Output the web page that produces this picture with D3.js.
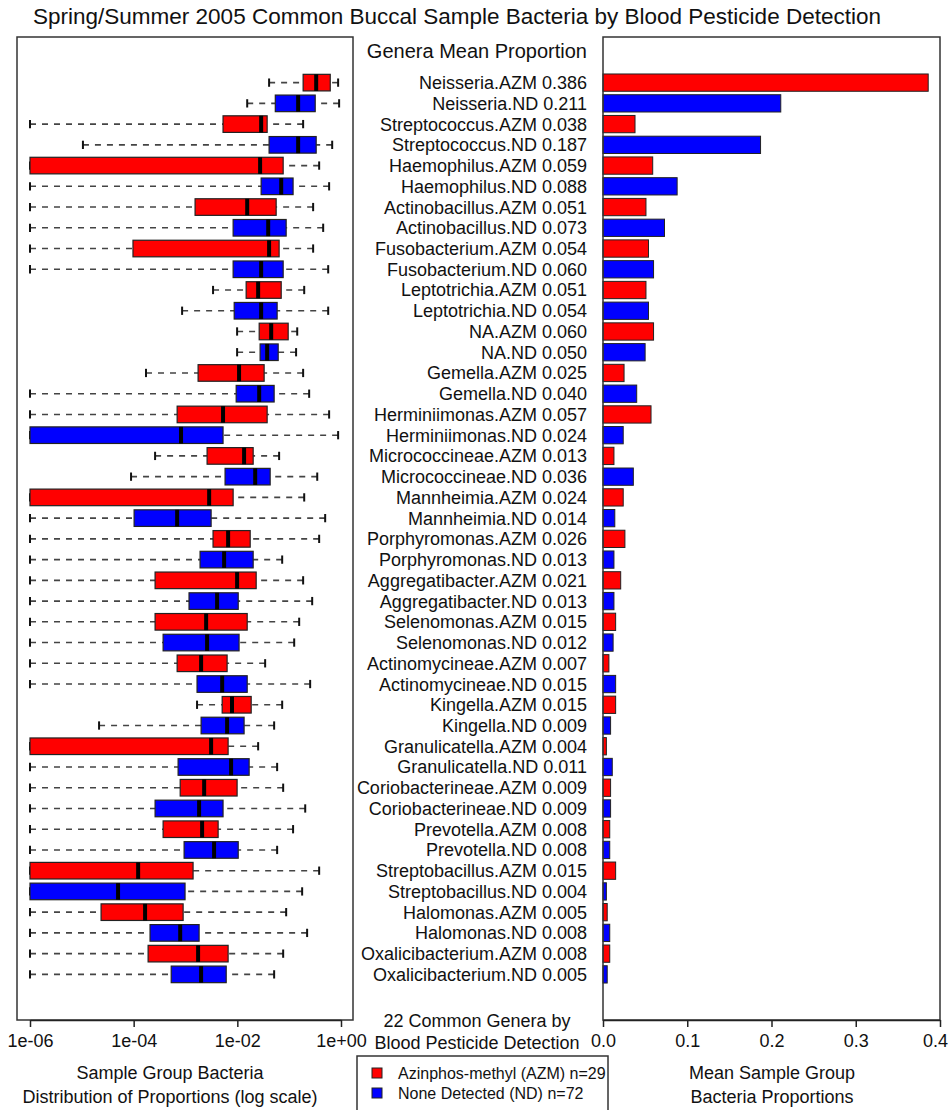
<!DOCTYPE html>
<html>
<head>
<meta charset="utf-8">
<script src="https://cdn.jsdelivr.net/npm/d3@7"></script>
<style>
  html, body { margin: 0; padding: 0; background: #fff; }
  svg { display: block; font-family: "Liberation Sans", Arial, Helvetica, sans-serif; }
</style>
</head>
<body>
<svg id="chart" width="950" height="1110"></svg>
<script>
// ---- data -------------------------------------------------------------
const genera = [
  "Neisseria", "Streptococcus", "Haemophilus", "Actinobacillus", "Fusobacterium",
  "Leptotrichia", "NA", "Gemella", "Herminiimonas", "Micrococcineae", "Mannheimia",
  "Porphyromonas", "Aggregatibacter", "Selenomonas", "Actinomycineae", "Kingella",
  "Granulicatella", "Coriobacterineae", "Prevotella", "Streptobacillus", "Halomonas",
  "Oxalicibacterium"
];
const groups = ["AZM", "ND"];
const groupColors = ["#ff0000", "#0000ff"];

// mean proportion per genus/group (AZM, ND alternating)
const meanProportion = [
  0.386, 0.211, 0.038, 0.187, 0.059, 0.088, 0.051, 0.073, 0.054, 0.060,
  0.051, 0.054, 0.060, 0.050, 0.025, 0.040, 0.057, 0.024, 0.013, 0.036,
  0.024, 0.014, 0.026, 0.013, 0.021, 0.013, 0.015, 0.012, 0.007, 0.015,
  0.015, 0.009, 0.004, 0.011, 0.009, 0.009, 0.008, 0.008, 0.015, 0.004,
  0.005, 0.008, 0.008, 0.005
];

// five-number summaries of per-sample proportions (zeros floored at 1e-06)
const whiskerLow = [
  0.041, 0.0155, 1e-6, 1.05e-5, 1e-6, 1e-6, 1e-6, 1e-6, 1e-6, 1e-6,
  0.0034, 0.00086, 0.0099, 0.0099, 0.000173, 1e-6, 1e-6, 1e-6, 0.000259, 8.9e-5,
  1e-6, 1e-6, 1e-6, 1e-6, 1e-6, 1e-6, 1e-6, 1e-6, 1e-6, 1e-6,
  0.00167, 2.15e-5, 1e-6, 1e-6, 1e-6, 1e-6, 1e-6, 1e-6, 1e-6, 1e-6,
  1e-6, 1e-6, 1e-6, 1e-6
];
const quartile1 = [
  0.186, 0.054, 0.0053, 0.041, 1e-6, 0.0288, 0.00153, 0.0083, 9.7e-5, 0.0083,
  0.0148, 0.0087, 0.0264, 0.0275, 0.00175, 0.0095, 0.00069, 1e-6, 0.00261, 0.0058,
  1e-6, 0.000102, 0.0034, 0.00191, 0.000259, 0.00117, 0.000259, 0.00037, 0.00069, 0.00167,
  0.0051, 0.002, 1e-6, 0.00072, 0.00079, 0.000259, 0.00037, 0.00094, 1e-6, 1e-6,
  2.35e-5, 0.000207, 0.00019, 0.00053
];
const median = [
  0.332, 0.149, 0.0288, 0.149, 0.0275, 0.0702, 0.0155, 0.0394, 0.041, 0.0288,
  0.0252, 0.0288, 0.045, 0.0376, 0.0108, 0.0264, 0.0053, 0.00082, 0.0135, 0.0221,
  0.00286, 0.00069, 0.00664, 0.00556, 0.0099, 0.00407, 0.0025, 0.00261, 0.002, 0.0051,
  0.0079, 0.00635, 0.00312, 0.00758, 0.00229, 0.00183, 0.00209, 0.00356, 0.000122, 5.0e-5,
  0.000166, 0.00079, 0.00175, 0.002
];
const quartile3 = [
  0.62, 0.318, 0.0376, 0.332, 0.0766, 0.119, 0.0561, 0.0875, 0.064, 0.0766,
  0.0702, 0.0586, 0.0957, 0.0614, 0.0329, 0.0513, 0.0376, 0.0053, 0.0202, 0.043,
  0.0083, 0.00312, 0.0177, 0.0202, 0.0231, 0.0104, 0.0155, 0.0108, 0.00635, 0.0155,
  0.0185, 0.0135, 0.00664, 0.0169, 0.0099, 0.0053, 0.00426, 0.0104, 0.0014, 0.00098,
  0.0009, 0.00183, 0.00664, 0.0061
];
const whiskerHigh = [
  0.88, 0.92, 0.186, 0.676, 0.379, 0.59, 0.29, 0.453, 0.29, 0.566,
  0.195, 0.566, 0.143, 0.136, 0.186, 0.243, 0.59, 0.88, 0.064, 0.348,
  0.195, 0.495, 0.379, 0.0733, 0.186, 0.278, 0.156, 0.125, 0.0344, 0.254,
  0.0733, 0.0513, 0.0252, 0.0586, 0.0766, 0.204, 0.119, 0.0586, 0.379, 0.178,
  0.0875, 0.222, 0.0766, 0.0513
];

const logTickValues = [1e-6, 1e-4, 1e-2, 1];
const logTickLabels = ["1e-06", "1e-04", "1e-02", "1e+00"];
const meanTickValues = [0, 0.1, 0.2, 0.3, 0.4];
const meanTickLabels = ["0.0", "0.1", "0.2", "0.3", "0.4"];
const legendLabels = ["Azinphos-methyl (AZM) n=29", "None Detected (ND) n=72"];

// ---- assemble rows ----------------------------------------------------
const rows = [];
genera.forEach((g, gi) => {
  groups.forEach((grp, j) => {
    const k = gi * 2 + j;
    rows.push({
      key: g + "." + grp, group: j, mean: meanProportion[k],
      lo: whiskerLow[k], q1: quartile1[k], med: median[k], q3: quartile3[k], hi: whiskerHigh[k]
    });
  });
});

// ---- layout -----------------------------------------------------------
const svg = d3.select("#chart");
const ink = "#111";
const plotTop = 37, plotBottom = 1020;
const leftX0 = 17, leftX1 = 353;
const rightX0 = 603, rightX1 = 940;

svg.append("rect").attr("width", 950).attr("height", 1110).attr("fill", "#fff");

const y = d3.scalePoint().domain(rows.map(d => d.key)).range([plotTop, plotBottom]).padding(2.2);
const step = y.step();
const boxH = step * 0.8;
const barH = step / 1.2;

const xLog = d3.scaleLog().domain([1e-6, 1]).range([30, 341]);
const xMean = d3.scaleLinear().domain([0, 0.4]).range([rightX0, rightX1]);

// ---- left panel: box plots on a log axis -----------------------------
const left = svg.append("g");
const boxes = left.selectAll("g.row").data(rows).join("g").attr("class", "row")
  .attr("transform", d => `translate(0,${y(d.key)})`);

// dashed whiskers run from the whisker end toward the box
boxes.filter(d => d.lo < d.q1).append("line")
  .attr("x1", d => xLog(d.lo)).attr("x2", d => xLog(d.q1))
  .attr("stroke", "#444").attr("stroke-width", 1.6).attr("stroke-dasharray", "6,6");
boxes.append("line")
  .attr("x1", d => xLog(d.hi)).attr("x2", d => xLog(d.q3))
  .attr("stroke", "#444").attr("stroke-width", 1.6).attr("stroke-dasharray", "6,6");
// staples
boxes.selectAll("line.cap").data(d => [d.lo, d.hi]).join("line").attr("class", "cap")
  .attr("x1", v => xLog(v)).attr("x2", v => xLog(v))
  .attr("y1", -boxH / 4).attr("y2", boxH / 4)
  .attr("stroke", ink).attr("stroke-width", 2);
// boxes
boxes.append("rect")
  .attr("x", d => xLog(d.q1)).attr("width", d => xLog(d.q3) - xLog(d.q1))
  .attr("y", -boxH / 2).attr("height", boxH)
  .attr("fill", d => groupColors[d.group]).attr("stroke", "#222").attr("stroke-width", 1.2);
// medians
boxes.append("line")
  .attr("x1", d => xLog(d.med)).attr("x2", d => xLog(d.med))
  .attr("y1", -boxH / 2).attr("y2", boxH / 2)
  .attr("stroke", "#000").attr("stroke-width", 4);

left.append("rect").attr("x", leftX0).attr("y", plotTop)
  .attr("width", leftX1 - leftX0).attr("height", plotBottom - plotTop)
  .attr("fill", "none").attr("stroke", "#333").attr("stroke-width", 1.5);

const axisLeftPanel = svg.append("g").attr("transform", `translate(0,${plotBottom})`)
  .call(d3.axisBottom(xLog).tickValues(logTickValues)
    .tickFormat((d, i) => logTickLabels[i]).tickSize(7).tickSizeOuter(0).tickPadding(7));

// ---- right panel: mean proportion bars -------------------------------
const right = svg.append("g");
right.selectAll("rect.bar").data(rows).join("rect").attr("class", "bar")
  .attr("x", xMean(0)).attr("width", d => xMean(d.mean) - xMean(0))
  .attr("y", d => y(d.key) - barH / 2).attr("height", barH)
  .attr("fill", d => groupColors[d.group]).attr("stroke", "#222").attr("stroke-width", 1);
right.append("rect").attr("x", rightX0).attr("y", plotTop)
  .attr("width", rightX1 - rightX0).attr("height", plotBottom - plotTop)
  .attr("fill", "none").attr("stroke", "#333").attr("stroke-width", 1.5);

const axisRightPanel = svg.append("g").attr("transform", `translate(0,${plotBottom})`)
  .call(d3.axisBottom(xMean).tickValues(meanTickValues)
    .tickFormat((d, i) => meanTickLabels[i]).tickSize(7).tickSizeOuter(0).tickPadding(7));

[axisLeftPanel, axisRightPanel].forEach(ax => {
  ax.select(".domain").attr("stroke", "#222").attr("stroke-width", 1.5);
  ax.selectAll(".tick line").attr("stroke", "#222").attr("stroke-width", 1.5);
  ax.selectAll(".tick text").attr("fill", ink)
    .style("font-size", "18px").style("font-family", "'Liberation Sans', Arial, sans-serif");
});
// keep the last mean-axis label inside the page edge
axisRightPanel.selectAll(".tick text").filter((d, i, n) => i === n.length - 1).attr("dx", "-5");

// ---- center column: labels -------------------------------------------
svg.append("g").selectAll("text").data(rows).join("text")
  .attr("x", 587).attr("y", d => y(d.key)).attr("dy", "0.36em")
  .attr("text-anchor", "end").attr("fill", ink).style("font-size", "18px")
  .text(d => `${d.key} ${d.mean.toFixed(3)}`);

svg.append("text").attr("x", 587).attr("y", 51).attr("dy", "0.36em")
  .attr("text-anchor", "end").attr("fill", ink).style("font-size", "20px")
  .text("Genera Mean Proportion");

svg.append("text").attr("x", 457).attr("y", 16).attr("dy", "0.36em")
  .attr("text-anchor", "middle").attr("fill", ink).style("font-size", "22.5px")
  .text("Spring/Summer 2005 Common Buccal Sample Bacteria by Blood Pesticide Detection");

const centerNotes = ["22 Common Genera by", "Blood Pesticide Detection"];
svg.append("g").selectAll("text").data(centerNotes).join("text")
  .attr("x", 477).attr("y", (d, i) => 1021 + i * 22).attr("dy", "0.36em")
  .attr("text-anchor", "middle").attr("fill", ink).style("font-size", "18px")
  .text(d => d);

// ---- axis titles -----------------------------------------------------
const leftTitle = ["Sample Group Bacteria", "Distribution of Proportions (log scale)"];
svg.append("g").selectAll("text").data(leftTitle).join("text")
  .attr("x", 170).attr("y", (d, i) => 1073 + i * 24).attr("dy", "0.36em")
  .attr("text-anchor", "middle").attr("fill", ink).style("font-size", "18px")
  .text(d => d);

const rightTitle = ["Mean Sample Group", "Bacteria Proportions"];
svg.append("g").selectAll("text").data(rightTitle).join("text")
  .attr("x", 772).attr("y", (d, i) => 1073 + i * 24).attr("dy", "0.36em")
  .attr("text-anchor", "middle").attr("fill", ink).style("font-size", "18px")
  .text(d => d);

// ---- legend ----------------------------------------------------------
const legend = svg.append("g");
legend.append("rect").attr("x", 357).attr("y", 1056).attr("width", 251).attr("height", 70)
  .attr("fill", "#fff").attr("stroke", "#333").attr("stroke-width", 1.5);
const items = legend.selectAll("g.item").data(legendLabels).join("g").attr("class", "item")
  .attr("transform", (d, i) => `translate(0,${1073 + i * 20})`);
items.append("rect").attr("x", 372).attr("y", -5).attr("width", 10).attr("height", 10)
  .attr("fill", (d, i) => groupColors[i]).attr("stroke", "#222").attr("stroke-width", 1);
items.append("text").attr("x", 398).attr("dy", "0.36em").attr("fill", ink)
  .style("font-size", "16px").text(d => d);
</script>
</body>
</html>
